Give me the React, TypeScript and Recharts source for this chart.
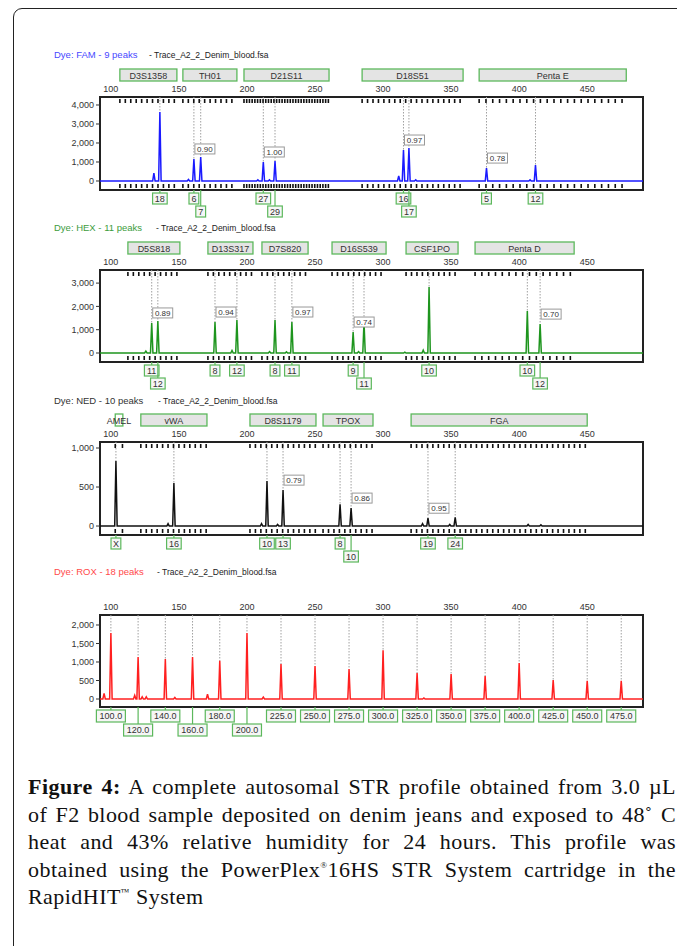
import React from "react";
import {
  ComposedChart,
  Line,
  XAxis,
  YAxis,
  ReferenceLine,
  ReferenceDot,
  ReferenceArea,
} from "recharts";

type Peak = { bp: number; rfu: number; allele?: string };
type Ratio = { bp: number; rfu: number; text: string };
type Locus = { name: string; from: number; to: number; step: number };

// size axis (bp), shared by all four dyes
const SIZE_TICKS = [100, 150, 200, 250, 300, 350, 400, 450];
const BP_DOMAIN: [number, number] = [92, 491];
const FILE_NAME = "- Trace_A2_2_Denim_blood.fsa";

// FAM
const famPeaks: Peak[] = [
  { bp: 131.6, rfu: 420 },
  { bp: 136, rfu: 3630, allele: "18" },
  { bp: 157, rfu: 80 },
  { bp: 161, rfu: 1160, allele: "6" },
  { bp: 166, rfu: 1260, allele: "7" },
  { bp: 208, rfu: 60 },
  { bp: 212, rfu: 1000, allele: "27" },
  { bp: 216.5, rfu: 60 },
  { bp: 220.6, rfu: 1050, allele: "29" },
  { bp: 311.5, rfu: 260 },
  { bp: 315, rfu: 1630, allele: "16" },
  { bp: 319, rfu: 1740, allele: "17" },
  { bp: 324, rfu: 60 },
  { bp: 376, rfu: 680, allele: "5" },
  { bp: 408, rfu: 60 },
  { bp: 412, rfu: 840, allele: "12" },
];
const famRatios: Ratio[] = [
  { bp: 161, rfu: 1160, text: "0.90" },
  { bp: 212, rfu: 1000, text: "1.00" },
  { bp: 315, rfu: 1630, text: "0.97" },
  { bp: 376, rfu: 680, text: "0.78" },
];
const famLoci: Locus[] = [
  { name: "D3S1358", from: 106.6, to: 148.5, step: 4 },
  { name: "TH01", from: 152.9, to: 192.6, step: 4 },
  { name: "D21S11", from: 197.8, to: 260.3, step: 2 },
  { name: "D18S51", from: 284.6, to: 358.8, step: 4 },
  { name: "Penta E", from: 370.6, to: 478.7, step: 5 },
];

// HEX
const hexPeaks: Peak[] = [
  { bp: 125.7, rfu: 80 },
  { bp: 130, rfu: 1290, allele: "11" },
  { bp: 134.5, rfu: 1370, allele: "12" },
  { bp: 176.5, rfu: 1330, allele: "8" },
  { bp: 189, rfu: 110 },
  { bp: 192.6, rfu: 1420, allele: "12" },
  { bp: 216.6, rfu: 60 },
  { bp: 220.6, rfu: 1420, allele: "8" },
  { bp: 229, rfu: 50 },
  { bp: 233, rfu: 1330, allele: "11" },
  { bp: 278, rfu: 900, allele: "9" },
  { bp: 282, rfu: 60 },
  { bp: 286, rfu: 1330, allele: "11" },
  { bp: 316, rfu: 40 },
  { bp: 329.5, rfu: 120 },
  { bp: 333.8, rfu: 2830, allele: "10" },
  { bp: 406, rfu: 1800, allele: "10" },
  { bp: 415.4, rfu: 1240, allele: "12" },
];
const hexRatios: Ratio[] = [
  { bp: 130, rfu: 1290, text: "0.89" },
  { bp: 176.5, rfu: 1330, text: "0.94" },
  { bp: 233, rfu: 1330, text: "0.97" },
  { bp: 278, rfu: 900, text: "0.74" },
  { bp: 415.4, rfu: 1240, text: "0.70" },
];
const hexLoci: Locus[] = [
  { name: "D5S818", from: 112.5, to: 150.7, step: 4 },
  { name: "D13S317", from: 171.3, to: 204.4, step: 4 },
  { name: "D7S820", from: 211, to: 244.9, step: 4 },
  { name: "D16S539", from: 262.5, to: 302.2, step: 4 },
  { name: "CSF1PO", from: 316.9, to: 355.1, step: 4 },
  { name: "Penta D", from: 367.6, to: 440.4, step: 5 },
];

// NED
const nedPeaks: Peak[] = [
  { bp: 103.7, rfu: 833, allele: "X" },
  { bp: 142, rfu: 30 },
  { bp: 146.3, rfu: 550, allele: "16" },
  { bp: 210.7, rfu: 30 },
  { bp: 214.7, rfu: 577, allele: "10" },
  { bp: 222.5, rfu: 20 },
  { bp: 226.5, rfu: 460, allele: "13" },
  { bp: 268.4, rfu: 280, allele: "8" },
  { bp: 276.5, rfu: 230, allele: "10" },
  { bp: 329, rfu: 30 },
  { bp: 333, rfu: 100, allele: "19" },
  { bp: 349, rfu: 20 },
  { bp: 353, rfu: 110, allele: "24" },
  { bp: 406.6, rfu: 20 },
  { bp: 416, rfu: 15 },
];
const nedRatios: Ratio[] = [
  { bp: 226.5, rfu: 460, text: "0.79" },
  { bp: 276.5, rfu: 230, text: "0.86" },
  { bp: 333, rfu: 100, text: "0.95" },
];
const nedLoci: Locus[] = [
  { name: "AMEL", from: 103.2, to: 108.8, step: 5.3 },
  { name: "vWA", from: 122, to: 170.6, step: 4 },
  { name: "D8S1179", from: 202.2, to: 250.7, step: 4 },
  { name: "TPOX", from: 255.9, to: 292.6, step: 4 },
  { name: "FGA", from: 320.6, to: 450, step: 4 },
];

// ROX (size standard)
const roxPeaks: Peak[] = [
  { bp: 95, rfu: 150 },
  { bp: 100, rfu: 1780, allele: "100.0" },
  { bp: 117.5, rfu: 100 },
  { bp: 120, rfu: 1135, allele: "120.0" },
  { bp: 123, rfu: 60 },
  { bp: 126, rfu: 60 },
  { bp: 140, rfu: 1080, allele: "140.0" },
  { bp: 147, rfu: 40 },
  { bp: 160, rfu: 1135, allele: "160.0" },
  { bp: 171, rfu: 130 },
  { bp: 180, rfu: 1030, allele: "180.0" },
  { bp: 200, rfu: 1780, allele: "200.0" },
  { bp: 212, rfu: 50 },
  { bp: 225, rfu: 945, allele: "225.0" },
  { bp: 250, rfu: 890, allele: "250.0" },
  { bp: 275, rfu: 810, allele: "275.0" },
  { bp: 300, rfu: 1320, allele: "300.0" },
  { bp: 325, rfu: 700, allele: "325.0" },
  { bp: 330, rfu: 30 },
  { bp: 350, rfu: 675, allele: "350.0" },
  { bp: 375, rfu: 620, allele: "375.0" },
  { bp: 400, rfu: 970, allele: "400.0" },
  { bp: 425, rfu: 510, allele: "425.0" },
  { bp: 450, rfu: 490, allele: "450.0" },
  { bp: 475, rfu: 490, allele: "475.0" },
];

const W = 677;
const PLOT_LEFT = 100;
const PLOT_RIGHT = 643;
const PX_PER_BP = (PLOT_RIGHT - PLOT_LEFT) / (BP_DOMAIN[1] - BP_DOMAIN[0]);
const CALL_GREEN = "#5cb85c";
const FONT = "'Liberation Sans', Arial, sans-serif";

function traceFrom(peaks: Peak[]) {
  const pts = [{ bp: BP_DOMAIN[0], rfu: 0 }];
  [...peaks]
    .sort((a, b) => a.bp - b.bp)
    .forEach((p) => {
      pts.push({ bp: p.bp - 0.9, rfu: 0 }, { bp: p.bp, rfu: p.rfu }, { bp: p.bp + 0.9, rfu: 0 });
    });
  pts.push({ bp: BP_DOMAIN[1], rfu: 0 });
  return pts;
}

// second row when a call box would collide with the previous one
function callsWithRows(peaks: Peak[]) {
  let lastBp = -Infinity;
  let lastChars = 0;
  return peaks
    .filter((p) => p.allele)
    .sort((a, b) => a.bp - b.bp)
    .map((p) => {
      const chars = p.allele!.length;
      const gap = (p.bp - lastBp) * PX_PER_BP;
      const row = gap < 4 + 5.2 * Math.max(chars, lastChars) ? 1 : 0;
      if (row === 0) {
        lastBp = p.bp;
        lastChars = chars;
      }
      return { ...p, row };
    });
}

function binsFrom(loci: Locus[]) {
  const out: number[] = [];
  loci.forEach((l) => {
    for (let b = l.from; b <= l.to + 0.01; b += l.step) out.push(b);
  });
  return out;
}

type PanelProps = {
  title: string;
  titleColor: string;
  traceColor: string;
  fileX: number;
  titleY: number;
  plotTop: number;
  plotBottom: number;
  yDomain: [number, number];
  yTicks: number[];
  peaks: Peak[];
  ratios?: Ratio[];
  loci?: Locus[];
  boxH?: number;
};

function Panel(p: PanelProps) {
  const chartTop = p.plotTop - 45;
  const height = p.plotBottom + 42 - chartTop;
  const [yMin, yMax] = p.yDomain;
  const trace = traceFrom(p.peaks);
  const calls = callsWithRows(p.peaks);
  const bins = binsFrom(p.loci ?? []);
  const boxH = p.boxH ?? 11;

  return (
    <>
      <div
        style={{
          position: "absolute",
          left: 54,
          top: p.titleY - 7,
          fontSize: 9.5,
          color: p.titleColor,
          fontFamily: FONT,
          whiteSpace: "nowrap",
        }}
      >
        {p.title}
      </div>
      <div
        style={{
          position: "absolute",
          left: p.fileX,
          top: p.titleY - 6,
          fontSize: 8.5,
          color: "#222",
          fontFamily: FONT,
          whiteSpace: "nowrap",
        }}
      >
        {FILE_NAME}
      </div>
      <div style={{ position: "absolute", left: 0, top: chartTop, fontFamily: FONT }}>
        <ComposedChart
          width={W}
          height={height}
          margin={{ top: 31, right: W - PLOT_RIGHT, bottom: 42, left: PLOT_LEFT - 50 }}
        >
          <XAxis
            type="number"
            dataKey="bp"
            orientation="top"
            domain={BP_DOMAIN}
            ticks={SIZE_TICKS}
            interval={0}
            allowDataOverflow
            axisLine={false}
            tickLine={false}
            tickSize={0}
            tickMargin={5}
            height={14}
            tick={{ fontSize: 9, fill: "#333" }}
          />
          <YAxis
            type="number"
            dataKey="rfu"
            domain={p.yDomain}
            ticks={p.yTicks}
            interval={0}
            allowDataOverflow
            width={50}
            axisLine={false}
            tickSize={4}
            tickMargin={2}
            tickLine={{ stroke: "#333" }}
            tick={{ fontSize: 9, fill: "#333" }}
            tickFormatter={(v: number) => v.toLocaleString("en-US")}
          />

          {(p.loci ?? []).map((l) => (
            <ReferenceArea
              key={"locus" + l.name}
              x1={l.from}
              x2={l.to}
              y1={yMin}
              y2={yMax}
              ifOverflow="visible"
              shape={(s: any) => {
                const narrow = s.width < 20;
                return (
                  <g>
                    <rect
                      x={s.x}
                      y={s.y - 28}
                      width={s.width}
                      height={12}
                      fill={narrow ? "none" : "#e4e4e4"}
                      stroke={CALL_GREEN}
                      strokeWidth={1.3}
                    />
                    <text
                      x={s.x + s.width / 2}
                      y={s.y - 18.5}
                      textAnchor="middle"
                      fontSize={9}
                      fill="#333"
                    >
                      {l.name}
                    </text>
                  </g>
                );
              }}
            />
          ))}

          {bins.map((b, i) => (
            <ReferenceDot
              key={"bt" + i}
              x={b}
              y={yMax}
              ifOverflow="visible"
              shape={(s: any) => <rect x={s.cx - 0.8} y={s.cy + 2} width={1.6} height={4} fill="#111" />}
            />
          ))}
          {bins.map((b, i) => (
            <ReferenceDot
              key={"bb" + i}
              x={b}
              y={yMin}
              ifOverflow="visible"
              shape={(s: any) => <rect x={s.cx - 0.8} y={s.cy - 6} width={1.6} height={4} fill="#111" />}
            />
          ))}

          {calls.map((c) => (
            <ReferenceLine
              key={"guide" + c.bp}
              segment={[
                { x: c.bp, y: yMax },
                { x: c.bp, y: c.rfu },
              ]}
              stroke="#a0a0a0"
              strokeWidth={1}
              strokeDasharray="1.5 1.5"
            />
          ))}

          <Line
            data={trace}
            dataKey="rfu"
            type="linear"
            stroke={p.traceColor}
            strokeWidth={1.5}
            dot={false}
            isAnimationActive={false}
          />

          {(p.ratios ?? []).map((r) => (
            <ReferenceDot
              key={"ratio" + r.bp}
              x={r.bp}
              y={r.rfu}
              ifOverflow="visible"
              shape={(s: any) => (
                <g>
                  <rect x={s.cx + 1} y={s.cy - 15} width={20} height={10} fill="#fff" stroke="#999" strokeWidth={1} />
                  <text x={s.cx + 11} y={s.cy - 7.3} textAnchor="middle" fontSize={8} fill="#333">
                    {r.text}
                  </text>
                </g>
              )}
            />
          ))}

          <ReferenceArea
            x1={BP_DOMAIN[0]}
            x2={BP_DOMAIN[1]}
            y1={yMin}
            y2={yMax}
            ifOverflow="visible"
            fill="none"
            fillOpacity={0}
            stroke="#222"
            strokeWidth={2}
          />

          {calls.map((c) => (
            <ReferenceDot
              key={"call" + c.bp}
              x={c.bp}
              y={yMin}
              ifOverflow="visible"
              shape={(s: any) => {
                const w = c.allele!.length * 4.8 + 5;
                const top = s.cy + 3 + c.row * (boxH + 2);
                return (
                  <g>
                    <line x1={s.cx} x2={s.cx} y1={s.cy} y2={top} stroke={CALL_GREEN} strokeWidth={1.2} />
                    <rect
                      x={s.cx - w / 2}
                      y={top}
                      width={w}
                      height={boxH}
                      fill="#f6f6f6"
                      stroke={CALL_GREEN}
                      strokeWidth={1.2}
                    />
                    <text x={s.cx} y={top + boxH / 2 + 3.2} textAnchor="middle" fontSize={9} fill="#333">
                      {c.allele}
                    </text>
                  </g>
                );
              }}
            />
          ))}
        </ComposedChart>
      </div>
    </>
  );
}

const captionLine: React.CSSProperties = { textAlign: "justify", textAlignLast: "justify" };
const supStyle: React.CSSProperties = {
  fontSize: 9,
  lineHeight: 0,
  verticalAlign: "baseline",
  position: "relative",
  top: -9,
};

export default function App() {
  return (
    <div
      style={{
        position: "absolute",
        left: 0,
        top: 0,
        width: W,
        height: 946,
        overflow: "hidden",
        background: "#fff",
      }}
    >
      <div
        style={{
          position: "absolute",
          left: 13,
          top: 8,
          width: 720,
          height: 1000,
          border: "1.5px solid #222",
          borderRadius: 9,
        }}
      />

      <Panel
        title="Dye: FAM - 9 peaks"
        titleColor="#4848ff"
        traceColor="#1a1aff"
        fileX={149}
        titleY={56}
        plotTop={97}
        plotBottom={190}
        yDomain={[-474, 4421]}
        yTicks={[0, 1000, 2000, 3000, 4000]}
        peaks={famPeaks}
        ratios={famRatios}
        loci={famLoci}
      />
      <Panel
        title="Dye: HEX - 11 peaks"
        titleColor="#3d9c3d"
        traceColor="#1e951e"
        fileX={156}
        titleY={229}
        plotTop={270}
        plotBottom={362}
        yDomain={[-386, 3562]}
        yTicks={[0, 1000, 2000, 3000]}
        peaks={hexPeaks}
        ratios={hexRatios}
        loci={hexLoci}
      />
      <Panel
        title="Dye: NED - 10 peaks"
        titleColor="#333"
        traceColor="#111"
        fileX={158}
        titleY={402}
        plotTop={442}
        plotBottom={535}
        yDomain={[-115, 1077]}
        yTicks={[0, 500, 1000]}
        peaks={nedPeaks}
        ratios={nedRatios}
        loci={nedLoci}
      />
      <Panel
        title="Dye: ROX - 18 peaks"
        titleColor="#ff4a4a"
        traceColor="#ff2020"
        fileX={157}
        titleY={573}
        plotTop={615}
        plotBottom={707}
        yDomain={[-216, 2270]}
        yTicks={[0, 500, 1000, 1500, 2000]}
        peaks={roxPeaks}
        boxH={12}
      />

      <div
        style={{
          position: "absolute",
          left: 28,
          top: 773,
          width: 648,
          fontFamily: "'Liberation Serif', 'Times New Roman', serif",
          fontSize: 22,
          letterSpacing: 0.45,
          lineHeight: "27.6px",
          color: "#111",
        }}
      >
        <div style={captionLine}>
          <b>Figure 4:</b> A complete autosomal STR profile obtained from 3.0 µL
        </div>
        <div style={captionLine}>of F2 blood sample deposited on denim jeans and exposed to 48˚ C</div>
        <div style={captionLine}>heat and 43% relative humidity for 24 hours. This profile was</div>
        <div style={captionLine}>
          obtained using the PowerPlex<span style={supStyle}>®</span>16HS STR System cartridge in the
        </div>
        <div>
          RapidHIT<span style={supStyle}>™</span> System
        </div>
      </div>
    </div>
  );
}
